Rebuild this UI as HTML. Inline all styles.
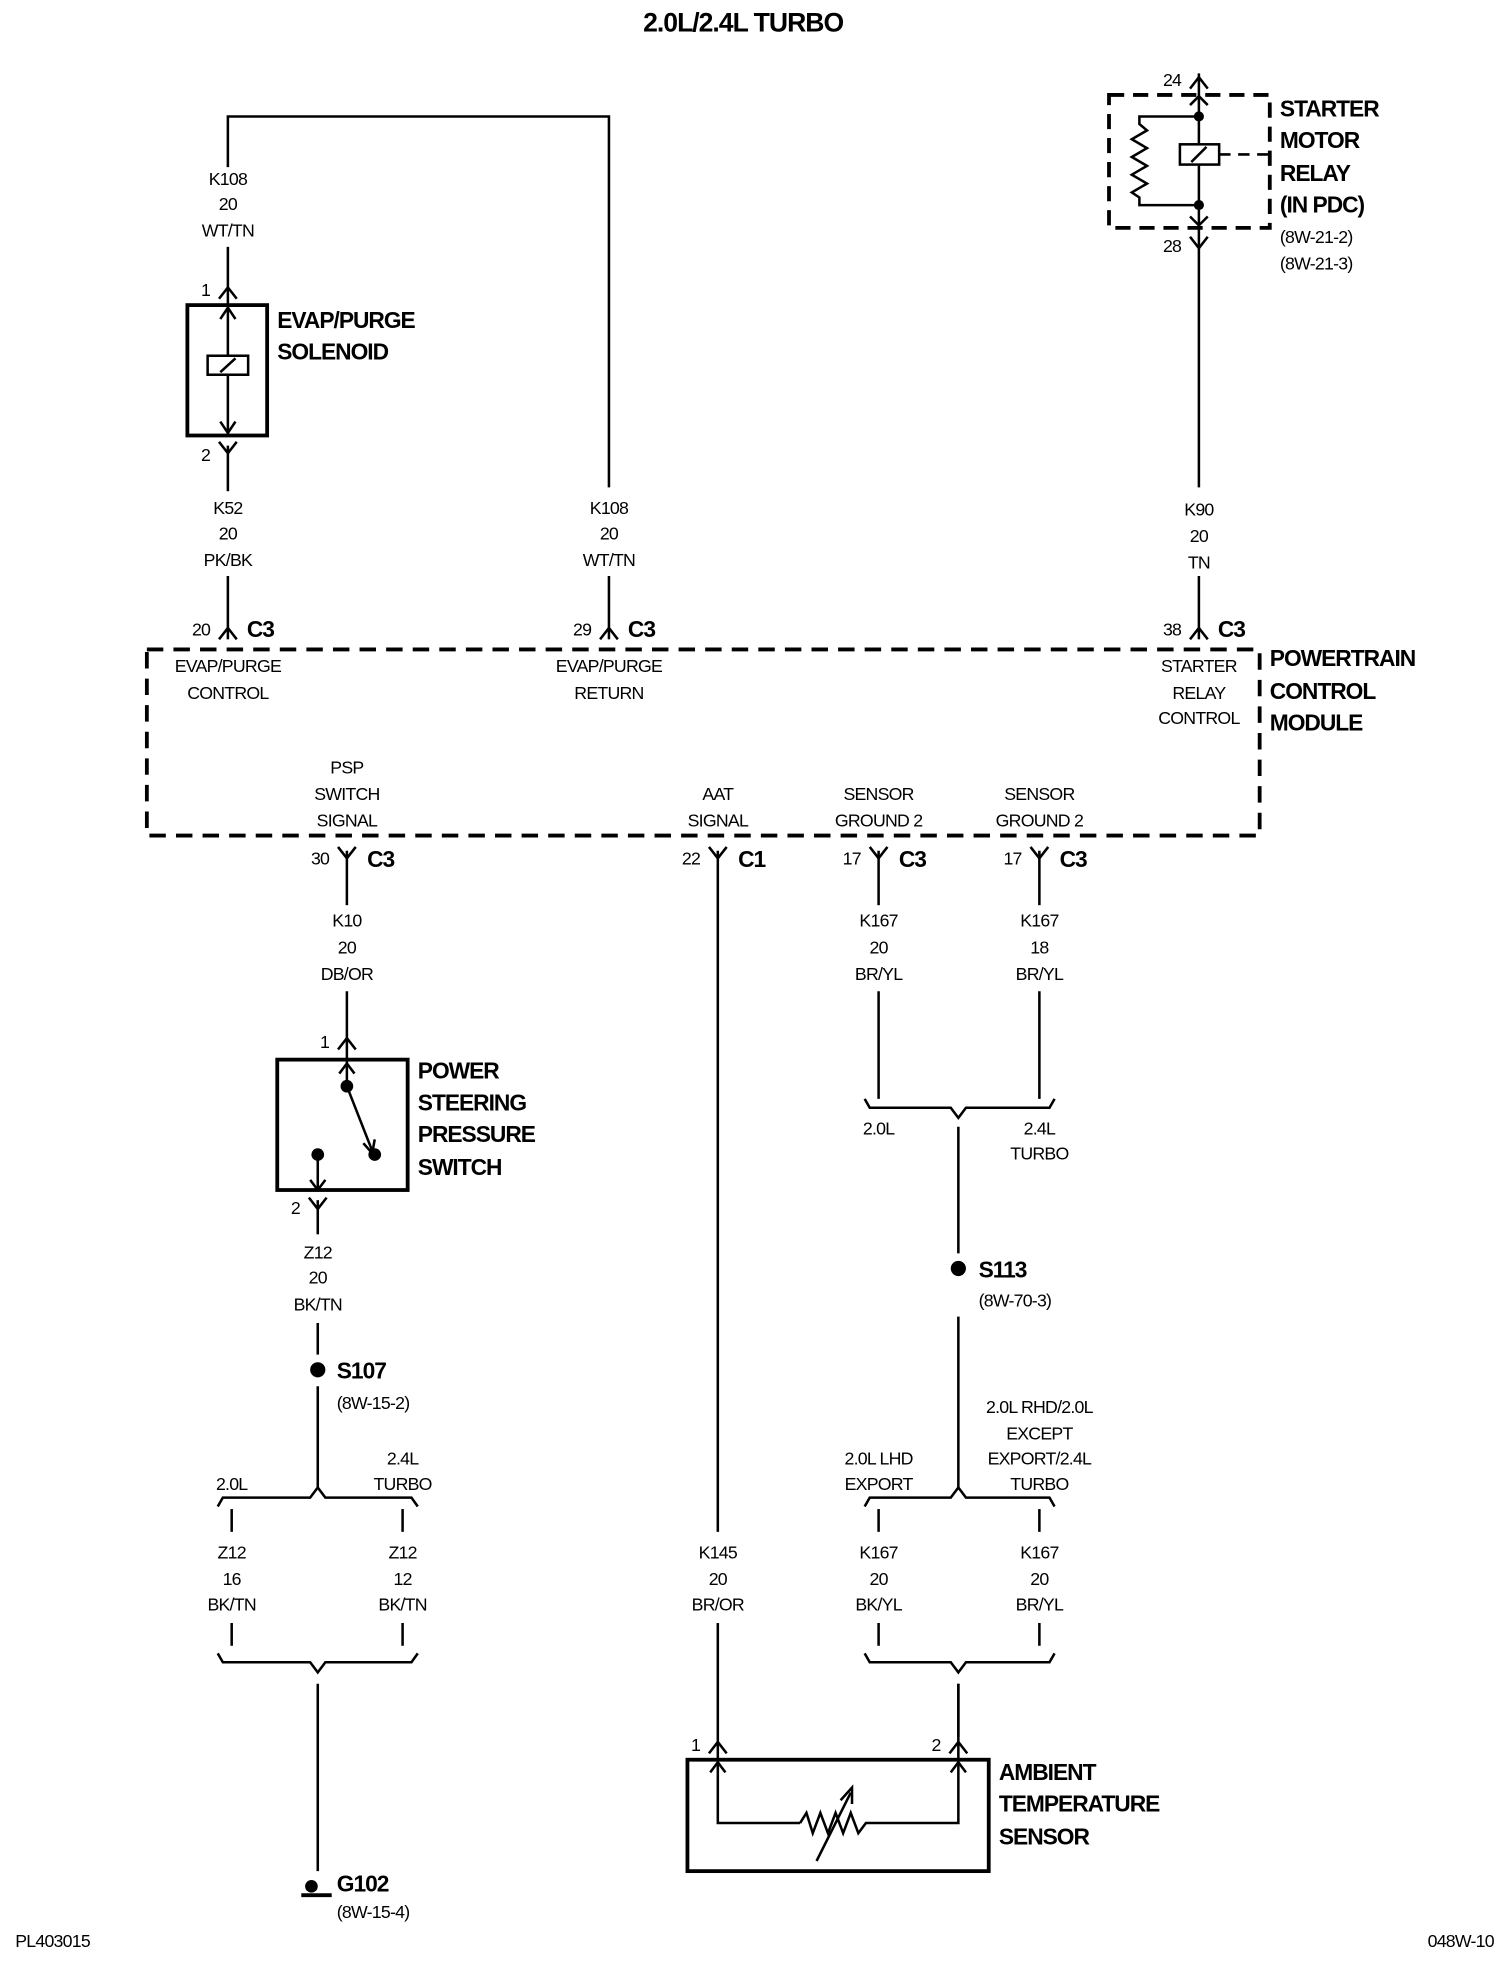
<!DOCTYPE html>
<html><head><meta charset="utf-8"><style>
html,body{margin:0;padding:0;background:#fff}
svg{display:block}
text{font-family:"Liberation Sans",Arial,sans-serif;fill:#000}
.l{font-size:14px;text-anchor:middle;letter-spacing:-0.6px}
.b{font-size:19px;font-weight:bold;letter-spacing:-0.8px}
.c{font-size:18px;font-weight:bold;letter-spacing:-0.8px}
.s{font-size:14px;letter-spacing:-0.6px}
</style></head><body>
<svg width="1504" height="1980" viewBox="0 0 1188 1564" xmlns="http://www.w3.org/2000/svg">
<g stroke="#000" stroke-width="2" fill="none">
<!-- top left loop -->
<path d="M180 132 V92 H481 V385"/>
<path d="M180 195 V241"/>
<!-- connector 1 solenoid -->
<path d="M173 236 L180 227 L187 236"/>
<rect x="148" y="241" width="63" height="103" stroke-width="3"/>
<path d="M180 241 V344"/>
<path d="M174 252 L180 243 L186 252"/>
<path d="M174 333 L180 342 L186 333"/>
<rect x="164" y="281" width="32" height="15" fill="#fff"/>
<path d="M174 294 L186 283"/>
<path d="M173 349 L180 358 L187 349"/>
<path d="M180 352 V388"/>
<path d="M180 455 V505"/>
<path d="M173 505 L180 496 L187 505"/>
<path d="M481 455 V505"/>
<path d="M474 505 L481 496 L488 505"/>
<!-- relay -->
<path d="M947 58 V385"/>
<path d="M940 70 L947 61 L954 70"/>
<path d="M940 83 L947 76 L954 83"/>
<path d="M940 171 L947 178 L954 171"/>
<path d="M940 187 L947 196 L954 187"/>
<path d="M947 92 H900 V98 L906 103 L894 110 L906 117 L894 124 L906 131 L894 138 L906 145 L894 152 L900 156 V162 H947"/>
<rect x="932" y="114" width="31" height="16" fill="#fff"/>
<path d="M941 128 L953 116"/>
<path d="M963 122 H1003" stroke-dasharray="9 6"/>
<rect x="876" y="75" width="127" height="105" stroke-width="3" stroke-dasharray="12 7"/>
<path d="M947 455 V505"/>
<path d="M940 505 L947 496 L954 505"/>
<!-- PCM -->
<rect x="116" y="513" width="879" height="147" stroke-width="3" stroke-dasharray="13 8"/>
<!-- PSP -->
<path d="M267 669 L274 678 L281 669"/>
<path d="M274 672 V715"/>
<path d="M274 783 V837"/>
<path d="M267 829 L274 820 L281 829"/>
<rect x="219" y="837" width="103" height="103" stroke-width="3"/>
<path d="M274 837 V858"/>
<path d="M268 848 L274 840 L280 848"/>
<path d="M274 858 L294 909"/>
<path d="M287 903 L294 911 L296 900"/>
<path d="M251 912 V940"/>
<path d="M245 932 L251 940 L257 932"/>
<path d="M244 946 L251 955 L258 946"/>
<path d="M251 948 V975"/>
<path d="M251 1045 V1070"/>
<path d="M251 1095 V1175"/>
<path d="M172 1190 L176 1183 H245 L251 1175 L257 1183 H325 L330 1190"/>
<path d="M183 1192 V1210"/><path d="M318 1192 V1210"/>
<path d="M183 1282 V1300"/><path d="M318 1282 V1300"/>
<path d="M172 1306 L176 1313 H245 L251 1321 L257 1313 H325 L330 1306"/>
<path d="M251 1330 V1478"/>
<!-- AAT -->
<path d="M560 669 L567 678 L574 669"/>
<path d="M567 672 V1210"/>
<path d="M567 1282 V1440 H632"/>
<path d="M560 1385 L567 1376 L574 1385"/>
<path d="M561 1400 L567 1392 L573 1400"/>
<rect x="543" y="1390" width="238" height="88" stroke-width="3"/>
<path d="M632 1440 L637 1432 L642 1448 L648 1432 L654 1448 L660 1432 L666 1448 L672 1432 L678 1448 L684 1440 H757 V1330"/>
<path d="M750 1385 L757 1376 L764 1385"/>
<path d="M751 1400 L757 1392 L763 1400"/>
<path d="M645 1470 L672 1416"/>
<path d="M664 1422 L673 1412 L673 1425"/>
<!-- sensor grounds -->
<path d="M687 669 L694 678 L701 669"/><path d="M694 672 V715"/>
<path d="M814 669 L821 678 L828 669"/><path d="M821 672 V715"/>
<path d="M694 783 V868"/><path d="M821 783 V868"/>
<path d="M683 868 L687 875 H751 L757 883 L763 875 H829 L833 868"/>
<path d="M757 890 V990"/>
<path d="M757 1040 V1175"/>
<path d="M683 1190 L687 1183 H751 L757 1175 L763 1183 H829 L833 1190"/>
<path d="M694 1192 V1210"/><path d="M821 1192 V1210"/>
<path d="M694 1282 V1300"/><path d="M821 1282 V1300"/>
<path d="M683 1306 L687 1313 H751 L757 1321 L763 1313 H829 L833 1306"/>
<path d="M757 1330 V1372"/>
<path d="M238 1497 H262" stroke-width="3"/>
</g>
<g fill="#000">
<circle cx="947" cy="92" r="4"/><circle cx="947" cy="162" r="4"/>
<circle cx="274" cy="858" r="5"/><circle cx="296" cy="912" r="5"/><circle cx="251" cy="912" r="5"/>
<circle cx="251" cy="1082" r="6"/><circle cx="757" cy="1002" r="6"/>
<circle cx="246" cy="1490" r="5"/>
</g>
<text x="587" y="25" class="b" text-anchor="middle" style="font-size:21px">2.0L/2.4L TURBO</text>
<g class="l">
<text x="180" y="146">K108</text><text x="180" y="166">20</text><text x="180" y="187">WT/TN</text>
<text x="180" y="406">K52</text><text x="180" y="426">20</text><text x="180" y="447">PK/BK</text>
<text x="481" y="406">K108</text><text x="481" y="426">20</text><text x="481" y="447">WT/TN</text>
<text x="947" y="407">K90</text><text x="947" y="428">20</text><text x="947" y="449">TN</text>
<text x="180" y="531">EVAP/PURGE</text><text x="180" y="552">CONTROL</text>
<text x="481" y="531">EVAP/PURGE</text><text x="481" y="552">RETURN</text>
<text x="947" y="531">STARTER</text><text x="947" y="552">RELAY</text><text x="947" y="572">CONTROL</text>
<text x="274" y="611">PSP</text><text x="274" y="632">SWITCH</text><text x="274" y="653">SIGNAL</text>
<text x="567" y="632">AAT</text><text x="567" y="653">SIGNAL</text>
<text x="694" y="632">SENSOR</text><text x="694" y="653">GROUND 2</text>
<text x="821" y="632">SENSOR</text><text x="821" y="653">GROUND 2</text>
<text x="274" y="732">K10</text><text x="274" y="753">20</text><text x="274" y="774">DB/OR</text>
<text x="694" y="732">K167</text><text x="694" y="753">20</text><text x="694" y="774">BR/YL</text>
<text x="821" y="732">K167</text><text x="821" y="753">18</text><text x="821" y="774">BR/YL</text>
<text x="694" y="896">2.0L</text><text x="821" y="896">2.4L</text><text x="821" y="916">TURBO</text>
<text x="251" y="994">Z12</text><text x="251" y="1014">20</text><text x="251" y="1035">BK/TN</text>
<text x="183" y="1177">2.0L</text><text x="318" y="1157">2.4L</text><text x="318" y="1177">TURBO</text>
<text x="821" y="1116">2.0L RHD/2.0L</text><text x="821" y="1137">EXCEPT</text><text x="821" y="1157">EXPORT/2.4L</text><text x="821" y="1177">TURBO</text>
<text x="694" y="1157">2.0L LHD</text><text x="694" y="1177">EXPORT</text>
<text x="183" y="1231">Z12</text><text x="183" y="1252">16</text><text x="183" y="1272">BK/TN</text>
<text x="318" y="1231">Z12</text><text x="318" y="1252">12</text><text x="318" y="1272">BK/TN</text>
<text x="567" y="1231">K145</text><text x="567" y="1252">20</text><text x="567" y="1272">BR/OR</text>
<text x="694" y="1231">K167</text><text x="694" y="1252">20</text><text x="694" y="1272">BK/YL</text>
<text x="821" y="1231">K167</text><text x="821" y="1252">20</text><text x="821" y="1272">BR/YL</text>
</g>
<g class="s" text-anchor="end">
<text x="166" y="234">1</text><text x="166" y="364">2</text>
<text x="166" y="502">20</text><text x="467" y="502">29</text><text x="933" y="502">38</text>
<text x="933" y="68">24</text><text x="933" y="199">28</text>
<text x="260" y="683">30</text><text x="553" y="683">22</text><text x="680" y="683">17</text><text x="807" y="683">17</text>
<text x="260" y="828">1</text><text x="237" y="959">2</text>
<text x="553" y="1383">1</text><text x="743" y="1383">2</text>
</g>
<g class="c">
<text x="195" y="503">C3</text><text x="496" y="503">C3</text><text x="962" y="503">C3</text>
<text x="290" y="685">C3</text><text x="583" y="685">C1</text><text x="710" y="685">C3</text><text x="837" y="685">C3</text>
<text x="219" y="259">EVAP/PURGE</text><text x="219" y="284">SOLENOID</text>
<text x="1011" y="92">STARTER</text><text x="1011" y="117">MOTOR</text><text x="1011" y="143">RELAY</text><text x="1011" y="168">(IN PDC)</text>
<text x="1003" y="526">POWERTRAIN</text><text x="1003" y="552">CONTROL</text><text x="1003" y="577">MODULE</text>
<text x="330" y="852">POWER</text><text x="330" y="877">STEERING</text><text x="330" y="902">PRESSURE</text><text x="330" y="928">SWITCH</text>
<text x="266" y="1089">S107</text><text x="773" y="1009">S113</text><text x="266" y="1494">G102</text>
<text x="789" y="1406">AMBIENT</text><text x="789" y="1431">TEMPERATURE</text><text x="789" y="1457">SENSOR</text>
</g>
<g class="s">
<text x="1011" y="192">(8W-21-2)</text><text x="1011" y="213">(8W-21-3)</text>
<text x="266" y="1113">(8W-15-2)</text><text x="773" y="1032">(8W-70-3)</text><text x="266" y="1515">(8W-15-4)</text>
<text x="12" y="1538">PL403015</text><text x="1180" y="1538" text-anchor="end">048W-10</text>
</g>
</svg>
</body></html>
